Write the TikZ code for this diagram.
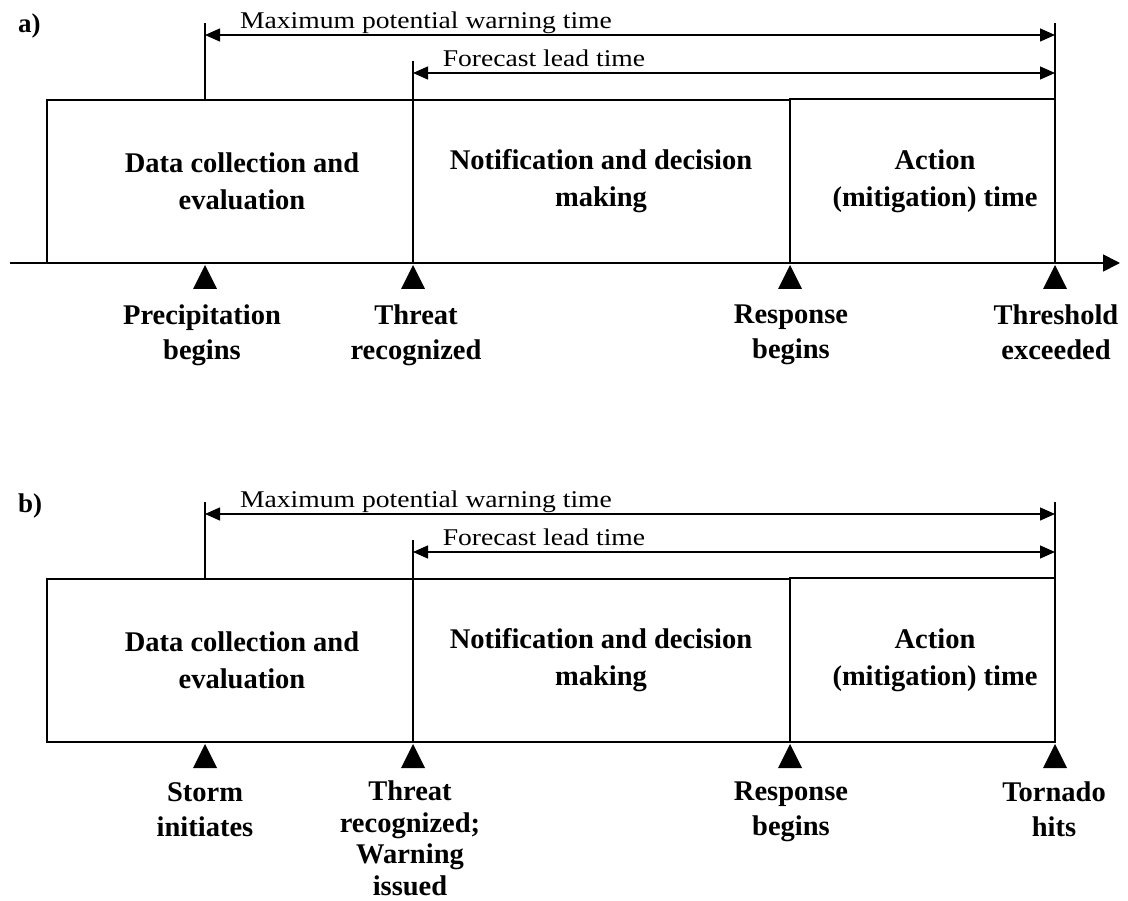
\documentclass[tikz,border=0pt]{standalone}
\usepackage{fontspec}
\setmainfont{Liberation Serif}
\newfontfamily\spanfont{Liberation Serif}[FakeStretch=1.15]
\usetikzlibrary{arrows.meta}

\tikzset{
  phase/.style={draw, line width=1.6pt, inner sep=0pt, outer sep=0pt},
  phasetext/.style={font=\bfseries\fontsize{28.5}{37}\selectfont, align=center, inner sep=0pt},
  eventtext/.style={font=\bfseries\fontsize{28.5}{35}\selectfont, align=center, anchor=north, inner sep=0pt},
  tightevent/.style={eventtext, font=\bfseries\fontsize{28.5}{31.5}\selectfont},
  spantext/.style={font=\spanfont\fontsize{24}{28}\selectfont, anchor=base, inner sep=0pt},
  span/.style={line width=1.4pt, {Triangle[length=15pt,width=13pt]}-{Triangle[length=15pt,width=13pt]}},
  guide/.style={line width=1.4pt},
  axis/.style={line width=1.8pt, -{Triangle[length=17pt,width=17pt]}},
  marker/.style={fill=black},
  panellabel/.style={font=\bfseries\fontsize{27}{30}\selectfont, anchor=base west, inner sep=0pt}
}

\begin{document}
\begin{tikzpicture}[x=1pt, y=-1pt]
\useasboundingbox (0,0) rectangle (1128,901);

% ---------------- panel a ----------------
\node[panellabel] (a-lab) at (18,33) {a)};

\node[phase, minimum width=366pt, minimum height=163pt] (a-p1) at (230,181.5) {};
\node[phase, minimum width=377pt, minimum height=163pt] (a-p2) at (601.5,181.5) {};
\node[phase, minimum width=265pt, minimum height=164pt] (a-p3) at (922.5,181) {};

\node[phasetext] (a-t1) at (242,181.5) {Data collection and\\evaluation};
\node[phasetext] (a-t2) at (601,181.5) {Notification and decision\\making};
\node[phasetext] (a-t3) at (935,181.5) {Action\\(mitigation) time};

\coordinate (a-g1) at (205,23);
\coordinate (a-g2) at (413,61);
\coordinate (a-g3) at (1055,23);
\draw[guide] (a-g1) -- (a-p1.north -| a-g1);
\draw[guide] (a-g2) -- (a-p1.north east);
\draw[guide] (a-g3) -- (a-p3.north east);

\coordinate (a-m1) at (205,35);  \coordinate (a-m2) at (1055,35);
\coordinate (a-f1) at (413,73);  \coordinate (a-f2) at (1055,73);
\draw[span] (a-m1) -- (a-m2);
\draw[span] (a-f1) -- (a-f2);
\node[spantext] (a-s1) at (426,28.5) {Maximum potential warning time};
\node[spantext] (a-s2) at (544,66.5) {Forecast lead time};

\coordinate (a-x0) at (10,263);
\coordinate (a-x1) at (1120,263);
\draw[axis] (a-x0) -- (a-x1);

\foreach \x in {205,413,790,1055}
  \fill[marker] (\x-12,289) -- (\x,265) -- (\x+12,289) -- cycle;

\node[eventtext] (a-e1) at (202,305) {Precipitation\\begins};
\node[eventtext] (a-e2) at (416,305) {Threat\\recognized};
\node[eventtext] (a-e3) at (791,305) {Response\\begins};
\node[eventtext] (a-e4) at (1056,305) {Threshold\\exceeded};

% ---------------- panel b ----------------
\begin{scope}[shift={(0,479)}]
\node[panellabel] (b-lab) at (18,33) {b)};

\node[phase, minimum width=366pt, minimum height=163pt] (b-p1) at (230,181.5) {};
\node[phase, minimum width=377pt, minimum height=163pt] (b-p2) at (601.5,181.5) {};
\node[phase, minimum width=265pt, minimum height=164pt] (b-p3) at (922.5,181) {};

\node[phasetext] (b-t1) at (242,181.5) {Data collection and\\evaluation};
\node[phasetext] (b-t2) at (601,181.5) {Notification and decision\\making};
\node[phasetext] (b-t3) at (935,181.5) {Action\\(mitigation) time};

\coordinate (b-g1) at (205,23);
\coordinate (b-g2) at (413,61);
\coordinate (b-g3) at (1055,23);
\draw[guide] (b-g1) -- (b-p1.north -| b-g1);
\draw[guide] (b-g2) -- (b-p1.north east);
\draw[guide] (b-g3) -- (b-p3.north east);

\coordinate (b-m1) at (205,35);  \coordinate (b-m2) at (1055,35);
\coordinate (b-f1) at (413,73);  \coordinate (b-f2) at (1055,73);
\draw[span] (b-m1) -- (b-m2);
\draw[span] (b-f1) -- (b-f2);
\node[spantext] (b-s1) at (426,28.5) {Maximum potential warning time};
\node[spantext] (b-s2) at (544,66.5) {Forecast lead time};

\foreach \x in {205,413,790,1055}
  \fill[marker] (\x-12,289) -- (\x,265) -- (\x+12,289) -- cycle;

\node[eventtext] (b-e1) at (205,303) {Storm\\initiates};
\node[tightevent] (b-e2) at (410,302) {Threat\\recognized;\\Warning\\issued};
\node[eventtext] (b-e3) at (791,303) {Response\\begins};
\node[eventtext] (b-e4) at (1054,303) {Tornado\\hits};
\end{scope}
\end{tikzpicture}
\end{document}
